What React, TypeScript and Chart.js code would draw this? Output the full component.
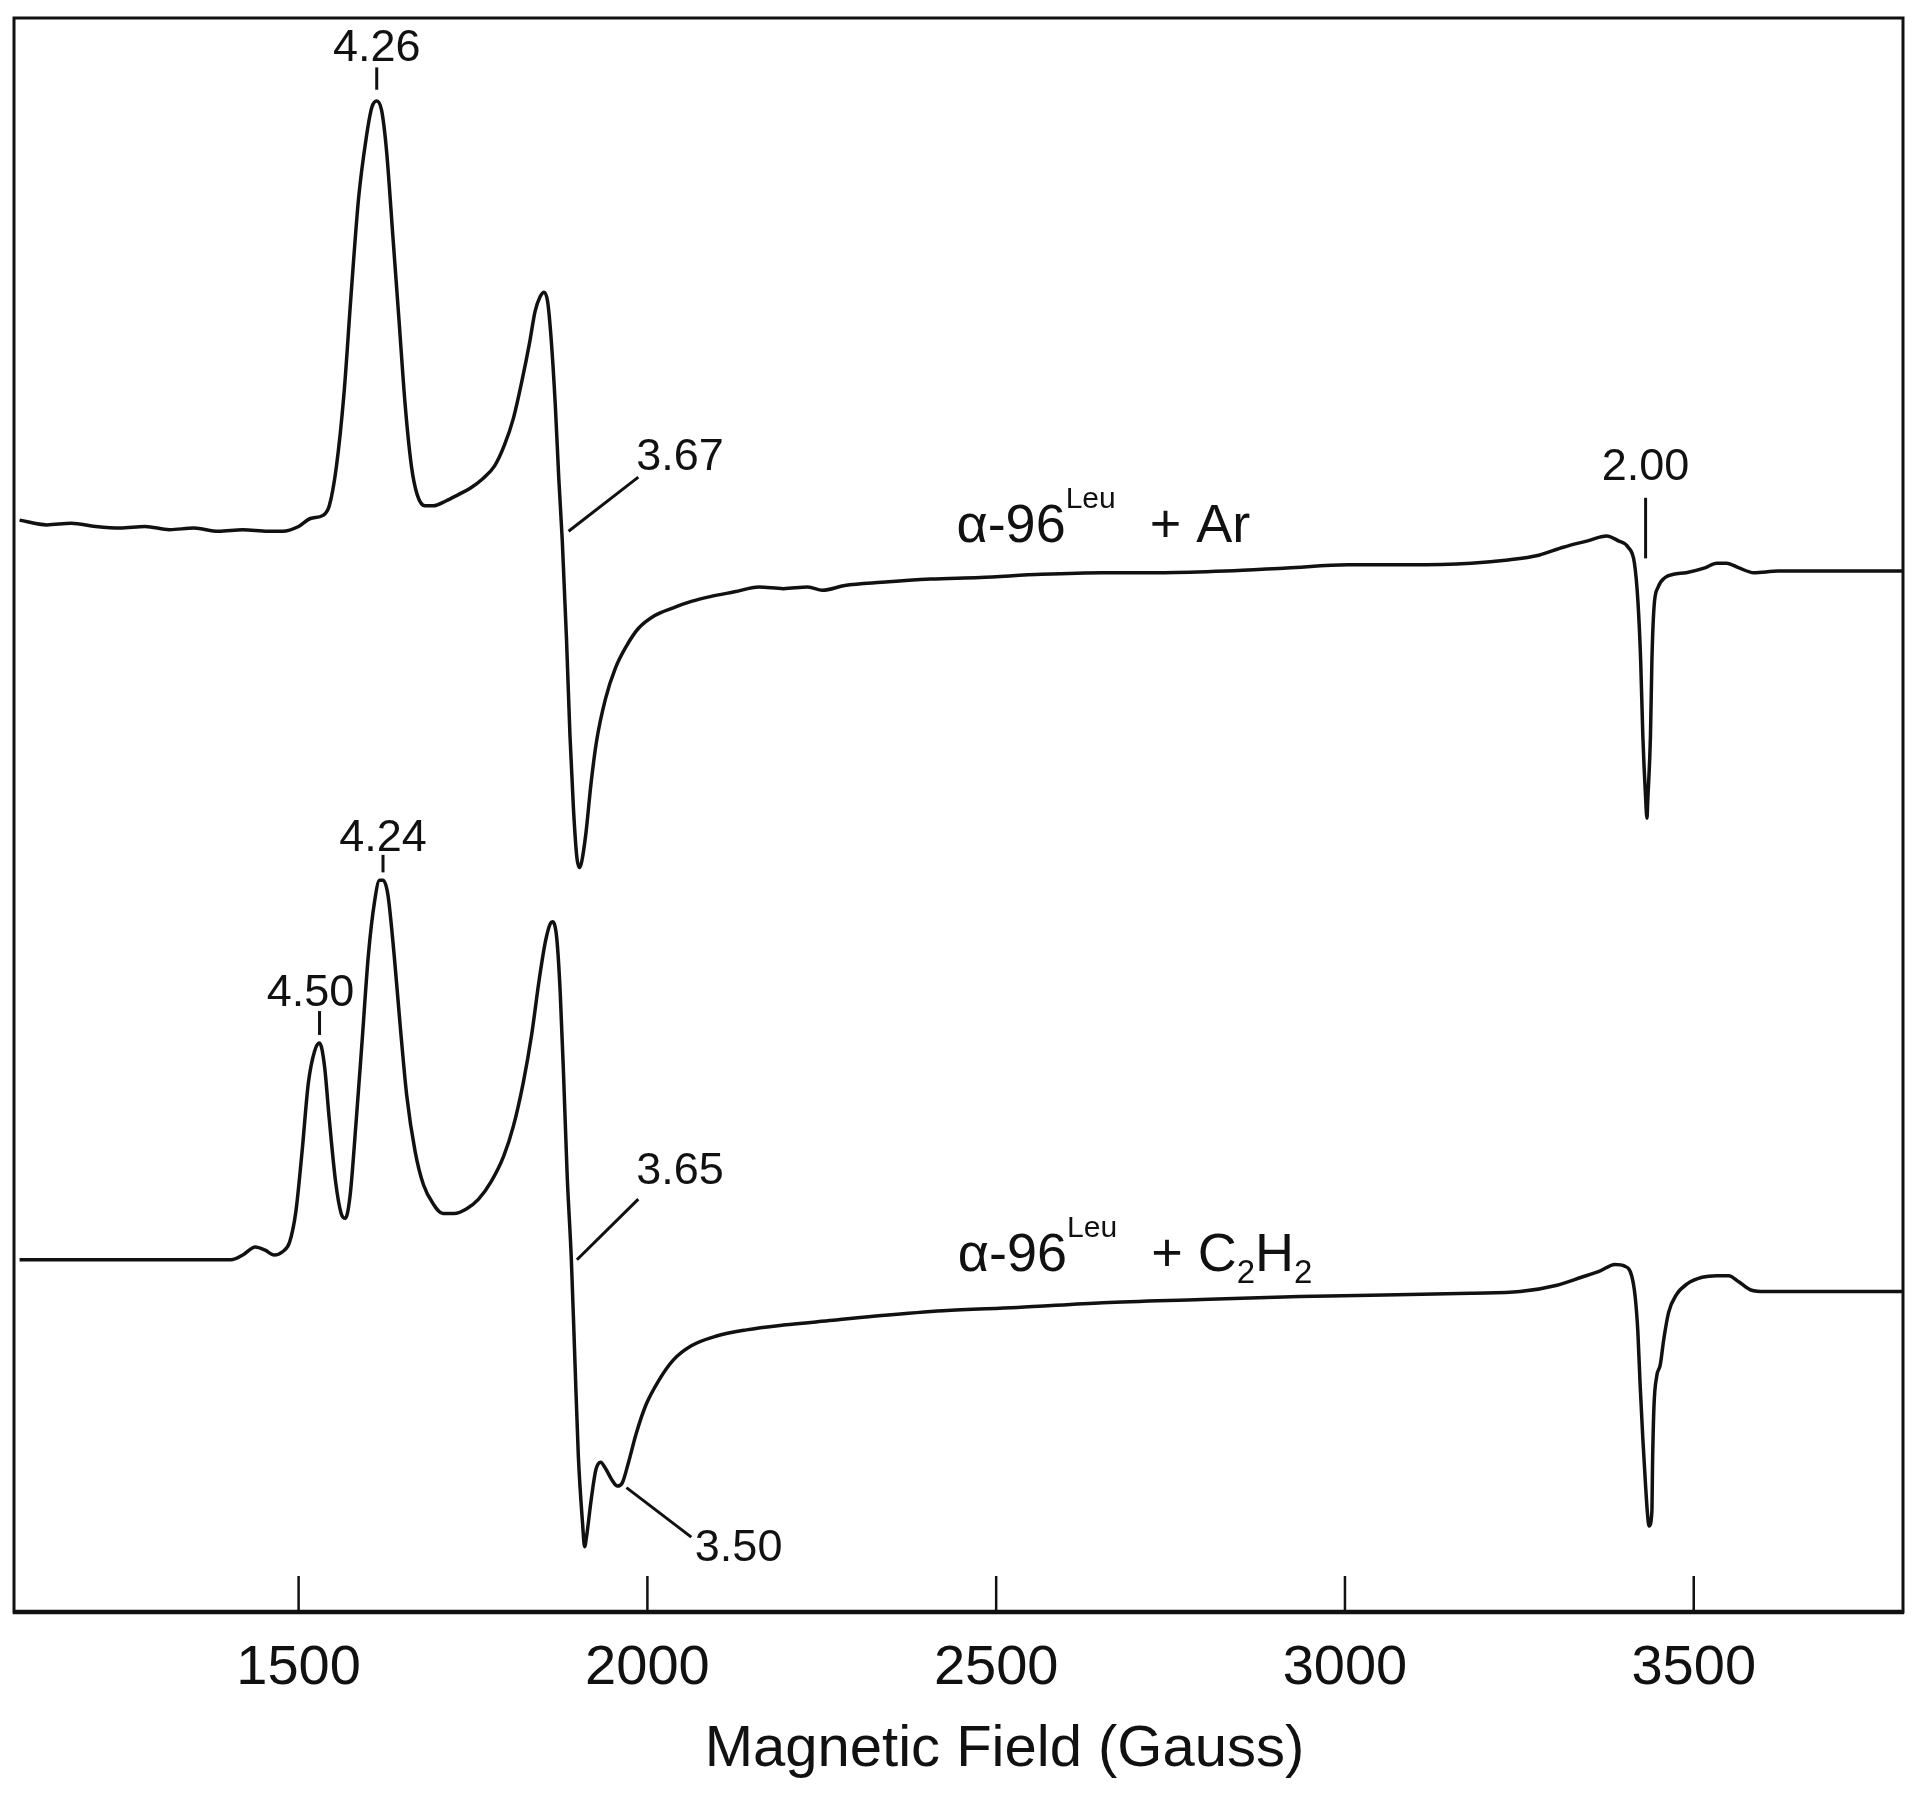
import React, { useEffect, useRef } from 'react';
import { Chart, registerables } from 'chart.js';

Chart.register(...registerables);

// ---- Data (field in Gauss, signal in arbitrary units) ----
const fieldAr = [
  1100, 1139, 1174, 1209, 1244, 1280, 1315, 1350, 1385, 1420, 1456, 1477, 1500, 1517, 1535,
  1544, 1554, 1565, 1575, 1586, 1597, 1605, 1612, 1619, 1626, 1635, 1644, 1653, 1662, 1670,
  1681, 1693, 1711, 1729, 1746, 1764, 1781, 1795, 1808, 1820, 1831, 1839, 1846, 1852, 1857,
  1862, 1868, 1873, 1878, 1884, 1889, 1894, 1899, 1903, 1906, 1912, 1919, 1927, 1940, 1954,
  1970, 1987, 2010, 2037, 2063, 2090, 2125, 2160, 2195, 2230, 2251, 2283, 2336, 2406, 2477,
  2565, 2653, 2741, 2829, 2917, 3005, 3093, 3181, 3234, 3278, 3313, 3348, 3375, 3392, 3406,
  3415, 3420, 3424, 3427, 3431, 3433, 3434, 3438, 3440, 3443, 3449, 3459, 3471, 3489, 3516,
  3533, 3547, 3565, 3586, 3621, 3674, 3727, 3800,
];
const signalAr = [
  68.5, 68.2, 68.3, 68.1, 68.0, 68.1, 67.9, 68.0, 67.8, 67.9, 67.8, 67.8, 68.1, 68.6, 68.8,
  69.4, 71.8, 76.4, 82.5, 88.7, 92.5, 94.4, 94.8, 94.2, 91.7, 86.4, 81.0, 75.6, 71.8, 70.1,
  69.4, 69.4, 69.7, 70.1, 70.5, 71.1, 71.9, 73.2, 74.9, 77.2, 79.6, 81.6, 82.5, 82.8, 82.2,
  79.9, 75.7, 71.1, 67.2, 61.1, 55.0, 50.4, 47.3, 46.7, 47.1, 48.9, 51.9, 54.6, 57.3, 59.2,
  60.6, 61.7, 62.5, 63.0, 63.4, 63.7, 64.0, 64.3, 64.2, 64.3, 64.1, 64.4, 64.6, 64.8, 64.9,
  65.1, 65.2, 65.2, 65.3, 65.5, 65.7, 65.7, 65.8, 66.0, 66.3, 66.8, 67.2, 67.5, 67.2, 66.8,
  65.8, 63.4, 59.6, 55.0, 51.1, 49.8, 50.8, 55.0, 59.6, 63.0, 64.3, 64.9, 65.1, 65.2, 65.5,
  65.8, 65.8, 65.5, 65.2, 65.3, 65.3, 65.3, 65.3,
];
const fieldC2H2 = [
  1100, 1174, 1244, 1315, 1403, 1420, 1438, 1452, 1465, 1477, 1487, 1496, 1505, 1514, 1523,
  1530, 1537, 1544, 1553, 1561, 1567, 1574, 1582, 1591, 1600, 1609, 1616, 1621, 1628, 1637,
  1646, 1655, 1667, 1679, 1693, 1707, 1723, 1741, 1758, 1776, 1794, 1808, 1822, 1834, 1845,
  1854, 1861, 1864, 1870, 1875, 1880, 1885, 1891, 1896, 1901, 1907, 1910, 1913, 1919, 1926,
  1933, 1940, 1949, 1957, 1964, 1973, 1984, 1998, 2016, 2037, 2063, 2098, 2142, 2195, 2266,
  2336, 2424, 2530, 2653, 2794, 2935, 3075, 3181, 3251, 3304, 3339, 3366, 3387, 3401, 3411,
  3416, 3420, 3423, 3427, 3431, 3434, 3436, 3440, 3441, 3443, 3447, 3452, 3457, 3464, 3475,
  3491, 3512, 3533, 3550, 3565, 3582, 3603, 3674, 3744, 3800,
];
const signalC2H2 = [
  22.1, 22.1, 22.1, 22.1, 22.1, 22.4, 22.9, 22.7, 22.4, 22.6, 23.2, 25.1, 28.9, 33.2, 35.2,
  35.7, 34.3, 30.9, 27.0, 25.0, 24.7, 26.2, 30.5, 35.8, 41.2, 44.6, 45.9, 45.9, 45.0, 41.2,
  36.6, 32.4, 28.9, 26.8, 25.6, 25.0, 25.0, 25.3, 25.9, 27.0, 28.6, 30.5, 33.2, 36.2, 39.7,
  42.1, 43.2, 43.3, 42.3, 38.9, 33.5, 27.4, 22.1, 15.9, 9.8, 5.6, 4.1, 4.8, 6.9, 8.9,
  9.4, 9.0, 8.3, 7.9, 8.1, 9.4, 11.2, 13.0, 14.5, 15.8, 16.7, 17.3, 17.7, 18.0, 18.3,
  18.6, 18.9, 19.1, 19.4, 19.6, 19.8, 19.9, 20.0, 20.1, 20.5, 21.0, 21.4, 21.8, 21.7, 21.1,
  19.8, 17.5, 14.4, 10.9, 7.9, 6.0, 5.4, 6.3, 9.4, 12.9, 14.8, 15.5, 17.1, 18.8, 19.9,
  20.6, 21.0, 21.1, 21.1, 20.7, 20.2, 20.1, 20.1, 20.1, 20.1,
];
const tickValues = [1500, 2000, 2500, 3000, 3500];
const xTitle = 'Magnetic Field (Gauss)';

// g-value annotations: text, anchor field, anchor signal
const gLabelText = ['4.26', '3.67', '2.00', '4.24', '4.50', '3.65', '3.50'];
const gLabelField = [1612, 1984, 3431, 1621, 1517, 1984, 2068];
const gLabelSignal = [98.1, 72.4, 71.8, 48.5, 38.8, 27.6, 4.0];
const gLabelAlign = ['center', 'left', 'center', 'center', 'center', 'left', 'left'];
// leader lines: [field1, signal1, field2, signal2]
const leaderLines = [
  [1612, 96.9, 1612, 95.5],
  [1887, 67.8, 1987, 71.2],
  [3431, 69.9, 3431, 66.1],
  [1621, 47.5, 1621, 46.4],
  [1530, 37.7, 1530, 36.2],
  [1899, 22.1, 1987, 25.9],
  [1970, 7.8, 2063, 4.7],
];
// trace labels
const traceLabelField = [2443, 2445];
const traceLabelSignal = [67.1, 21.4];
const traceLabelSegs = [
  [
    { t: '\u03b1-96', k: 'n' },
    { t: 'Leu', k: 'sup' },
    { t: '  + Ar', k: 'n' },
  ],
  [
    { t: '\u03b1-96', k: 'n' },
    { t: 'Leu', k: 'sup' },
    { t: '  + C', k: 'n' },
    { t: '2', k: 'sub' },
    { t: 'H', k: 'n' },
    { t: '2', k: 'sub' },
  ],
];

const FONT = '"Liberation Sans", Arial, Helvetica, sans-serif';
const INK = '#111111';

const decorPlugin = {
  id: 'decor',
  afterDatasetsDraw(chart: any) {
    const { ctx, chartArea: a, scales } = chart;
    const x = scales.x;
    const y = scales.y;
    ctx.save();
    ctx.strokeStyle = INK;
    ctx.fillStyle = INK;
    ctx.lineCap = 'butt';
    // frame
    ctx.lineWidth = 3;
    ctx.strokeRect(a.left, a.top, a.right - a.left, a.bottom - a.top);
    ctx.lineWidth = 4.5;
    ctx.beginPath();
    ctx.moveTo(a.left - 1, a.bottom);
    ctx.lineTo(a.right + 1, a.bottom);
    ctx.stroke();
    // inward tick marks
    ctx.lineWidth = 2.5;
    for (const v of tickValues) {
      const px = x.getPixelForValue(v);
      ctx.beginPath();
      ctx.moveTo(px, a.bottom);
      ctx.lineTo(px, a.bottom - 36);
      ctx.stroke();
    }
    // leader lines
    ctx.lineWidth = 3;
    for (const l of leaderLines) {
      ctx.beginPath();
      ctx.moveTo(x.getPixelForValue(l[0]), y.getPixelForValue(l[1]));
      ctx.lineTo(x.getPixelForValue(l[2]), y.getPixelForValue(l[3]));
      ctx.stroke();
    }
    // g labels
    ctx.font = `45px ${FONT}`;
    ctx.textBaseline = 'middle';
    gLabelText.forEach((t, i) => {
      ctx.textAlign = gLabelAlign[i] as CanvasTextAlign;
      ctx.fillText(t, x.getPixelForValue(gLabelField[i]), y.getPixelForValue(gLabelSignal[i]));
    });
    // trace labels
    ctx.textAlign = 'left';
    ctx.textBaseline = 'alphabetic';
    const base = 54;
    traceLabelSegs.forEach((segs, i) => {
      let cx = x.getPixelForValue(traceLabelField[i]);
      const cy = y.getPixelForValue(traceLabelSignal[i]);
      for (const s of segs) {
        const size = s.k === 'n' ? base : s.k === 'sup' ? 30 : 33;
        const dy = s.k === 'sup' ? -34 : s.k === 'sub' ? 12 : 0;
        ctx.font = `${size}px ${FONT}`;
        ctx.fillText(s.t, cx, cy + dy);
        cx += ctx.measureText(s.t).width + (s.k === 'sup' ? 4 : 0);
      }
    });
    // axis title
    ctx.font = `58px ${FONT}`;
    ctx.textAlign = 'center';
    ctx.textBaseline = 'alphabetic';
    ctx.fillText(xTitle, (a.left + a.right) / 2 + 46, 1766);
    ctx.restore();
  },
};

export default function App() {
  const canvasRef = useRef<HTMLCanvasElement | null>(null);

  useEffect(() => {
    const canvas = canvasRef.current;
    if (!canvas) return;
    const chart = new Chart(canvas, {
      type: 'line',
      data: {
        datasets: [
          {
            label: 'α-96Leu + Ar',
            data: fieldAr.map((f, i) => ({ x: f, y: signalAr[i] })),
            borderColor: INK,
            borderWidth: 3.5,
            pointRadius: 0,
            fill: false,
            cubicInterpolationMode: 'monotone',
          },
          {
            label: 'α-96Leu + C2H2',
            data: fieldC2H2.map((f, i) => ({ x: f, y: signalC2H2[i] })),
            borderColor: INK,
            borderWidth: 3.5,
            pointRadius: 0,
            fill: false,
            cubicInterpolationMode: 'monotone',
          },
        ],
      },
      options: {
        responsive: false,
        animation: false,
        layout: { padding: { left: 14, right: 17, top: 18, bottom: 0 } },
        plugins: {
          legend: { display: false },
          tooltip: { enabled: false },
        },
        scales: {
          x: {
            type: 'linear',
            min: 1092,
            max: 3800,
            grid: { display: false, drawTicks: false },
            border: { display: false },
            afterBuildTicks: (scale: any) => {
              scale.ticks = tickValues.map((v) => ({ value: v }));
            },
            afterFit: (scale: any) => {
              scale.height = 183;
            },
            ticks: {
              color: INK,
              font: { family: FONT, size: 56 },
              padding: 23,
              maxRotation: 0,
              autoSkip: false,
              callback: (v: any) => String(v),
            },
          },
          y: {
            type: 'linear',
            display: false,
            min: 0,
            max: 100,
          },
        },
      },
      plugins: [decorPlugin],
    });
    return () => chart.destroy();
  }, []);

  return (
    <div style={{ position: 'absolute', left: 0, top: 0, width: 1920, height: 1795, background: '#fff' }}>
      <canvas ref={canvasRef} width={1920} height={1795} style={{ display: 'block' }} />
    </div>
  );
}
